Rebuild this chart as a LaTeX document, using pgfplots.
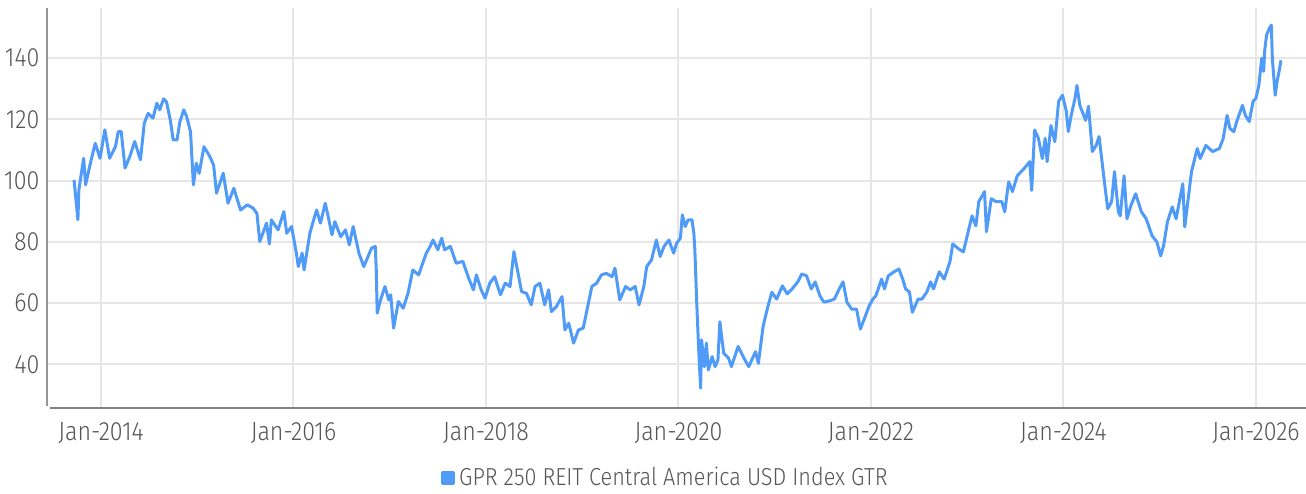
\documentclass[border=0pt]{standalone}
\usepackage{fontspec}
\setmainfont{Fira Sans}[UprightFont={* Light}, FakeStretch=0.88]
\usepackage{pgfplots}
\pgfplotsset{compat=1.18}
\definecolor{serie}{HTML}{4F9BF7}
\definecolor{gridc}{HTML}{E6E6E6}
\definecolor{lab}{HTML}{555555}
\definecolor{yaxc}{HTML}{969696}
\definecolor{xaxc}{HTML}{828282}
\begin{document}
\begin{tikzpicture}
\useasboundingbox (-23.5pt,-42.5pt) rectangle (629.5pt,204pt);
\begin{axis}[
  at={(0pt,0pt)}, anchor=south west,
  scale only axis, width=629.5pt, height=200pt,
  xmin=2013.439, xmax=2026.52, ymin=25.7, ymax=156.4,
  axis line style={draw=none},
  tick style={draw=none},
  clip=false,
  xtick={2014,2016,2018,2020,2022,2024,2026},
  xticklabels={Jan-2014,Jan-2016,Jan-2018,Jan-2020,Jan-2022,Jan-2024,Jan-2026},
  ytick={40,60,80,100,120,140},
  grid=major, major grid style={draw=gridc, line width=1pt},
  /pgf/number format/assume math mode=true,
  tick label style={font=\fontsize{13.2}{15}\selectfont, text=lab},
  yticklabel style={xshift=-0.3pt},
  xticklabel style={yshift=-3.5pt},
  legend style={at={(0.492,-0.174)}, anchor=center, draw=none, fill=none,
    font=\fontsize{12.3}{14}\selectfont, text=lab},
  legend image code/.code={\fill[serie] (0pt,-2.75pt) rectangle (5.5pt,2.75pt);},
]
\draw[draw=yaxc, line width=1pt] (rel axis cs:0,1) -- (rel axis cs:0,0.004);
\draw[draw=xaxc, line width=1.1pt] (rel axis cs:0.0024,0) -- (rel axis cs:1,0);
\addplot[serie, line width=1.5pt, line join=round] coordinates {
(2013.72,100.2)(2013.76,87.2)(2013.77,97.0)(2013.82,107.3)(2013.84,98.6)(2013.89,105.7)
(2013.94,112.2)(2013.99,107.3)(2014.04,116.6)(2014.09,107.3)(2014.15,111.1)(2014.18,116.0)
(2014.21,116.0)(2014.25,104.1)(2014.30,107.9)(2014.35,112.8)(2014.41,106.8)(2014.45,118.8)
(2014.49,122.0)(2014.54,120.4)(2014.58,125.3)(2014.61,123.1)(2014.65,126.7)(2014.68,125.8)
(2014.72,119.8)(2014.75,113.3)(2014.79,113.3)(2014.82,119.3)(2014.86,123.1)(2014.89,120.9)
(2014.93,116.0)(2014.96,98.6)(2014.99,105.7)(2015.02,102.4)(2015.07,111.1)(2015.13,107.9)
(2015.17,105.1)(2015.20,95.9)(2015.27,102.4)(2015.32,92.6)(2015.38,97.5)(2015.45,90.4)
(2015.52,92.1)(2015.58,91.0)(2015.62,89.3)(2015.65,80.1)(2015.72,86.1)(2015.75,79.3)
(2015.77,87.2)(2015.84,83.9)(2015.90,89.9)(2015.93,82.8)(2015.98,85.0)(2016.03,76.3)
(2016.05,71.9)(2016.09,76.3)(2016.11,70.8)(2016.17,82.8)(2016.21,87.2)(2016.24,90.4)
(2016.28,86.1)(2016.33,92.6)(2016.36,88.3)(2016.40,82.3)(2016.43,86.6)(2016.49,81.7)
(2016.54,83.9)(2016.58,79.0)(2016.62,85.0)(2016.68,76.3)(2016.73,71.9)(2016.76,74.1)
(2016.81,77.9)(2016.85,78.5)(2016.86,70.8)(2016.87,56.7)(2016.90,60.5)(2016.95,65.4)
(2016.99,61.0)(2017.01,62.7)(2017.04,51.8)(2017.09,60.5)(2017.14,58.3)(2017.19,63.2)
(2017.24,70.8)(2017.30,69.2)(2017.33,71.9)(2017.38,76.3)(2017.42,78.5)(2017.45,80.6)
(2017.50,77.4)(2017.54,81.2)(2017.57,77.4)(2017.63,78.5)(2017.69,73.0)(2017.76,73.6)
(2017.82,68.1)(2017.87,64.3)(2017.90,69.2)(2017.95,64.3)(2017.99,61.6)(2018.04,66.5)
(2018.09,68.6)(2018.15,62.7)(2018.20,66.5)(2018.25,65.4)(2018.29,76.8)(2018.32,71.9)
(2018.37,63.7)(2018.42,63.2)(2018.47,59.4)(2018.51,65.4)(2018.56,66.5)(2018.61,59.4)
(2018.65,64.3)(2018.68,57.2)(2018.73,58.8)(2018.79,62.1)(2018.82,51.2)(2018.86,53.4)
(2018.91,46.9)(2018.96,51.2)(2019.01,51.8)(2019.05,57.8)(2019.10,65.4)(2019.15,66.5)
(2019.20,69.2)(2019.25,69.7)(2019.31,68.6)(2019.34,71.4)(2019.39,61.0)(2019.45,65.4)
(2019.50,64.3)(2019.55,65.4)(2019.59,59.4)(2019.64,65.4)(2019.67,71.9)(2019.72,74.1)
(2019.77,80.6)(2019.81,75.2)(2019.85,78.5)(2019.90,80.6)(2019.95,76.3)(2019.98,79.5)
(2020.02,81.2)(2020.04,88.8)(2020.07,85.0)(2020.10,87.2)(2020.14,87.2)(2020.16,82.8)
(2020.17,77.4)(2020.19,59.9)(2020.21,44.7)(2020.23,32.2)(2020.24,48.0)(2020.27,39.2)
(2020.29,46.9)(2020.31,38.1)(2020.35,42.5)(2020.38,39.2)(2020.41,41.4)(2020.43,53.9)
(2020.47,43.6)(2020.52,42.0)(2020.55,39.2)(2020.62,45.8)(2020.68,42.0)(2020.73,39.2)
(2020.80,44.1)(2020.83,40.3)(2020.88,52.5)(2020.93,59.0)(2020.97,63.5)(2021.02,61.3)
(2021.08,65.6)(2021.13,63.0)(2021.18,64.6)(2021.24,66.9)(2021.28,69.5)(2021.33,68.9)
(2021.38,64.6)(2021.42,66.9)(2021.47,62.3)(2021.51,60.3)(2021.57,60.7)(2021.62,61.3)
(2021.67,64.6)(2021.71,66.9)(2021.75,60.3)(2021.80,58.0)(2021.85,58.0)(2021.89,51.5)
(2021.93,54.8)(2021.98,59.0)(2022.02,61.3)(2022.05,62.3)(2022.11,67.8)(2022.14,64.6)
(2022.18,68.9)(2022.24,70.2)(2022.29,71.1)(2022.33,67.8)(2022.36,64.6)(2022.40,63.6)
(2022.43,57.0)(2022.49,61.3)(2022.53,61.3)(2022.58,63.6)(2022.62,66.9)(2022.65,64.6)
(2022.71,70.2)(2022.76,67.8)(2022.82,73.4)(2022.85,79.3)(2022.91,77.7)(2022.96,76.7)
(2023.01,83.3)(2023.05,88.5)(2023.09,85.2)(2023.12,93.1)(2023.18,96.4)(2023.20,83.3)
(2023.25,94.1)(2023.30,93.1)(2023.36,93.1)(2023.39,89.8)(2023.43,99.6)(2023.47,96.4)
(2023.52,101.6)(2023.59,103.9)(2023.65,106.2)(2023.67,96.8)(2023.70,116.5)(2023.74,113.8)
(2023.78,107.2)(2023.81,113.8)(2023.83,106.2)(2023.87,118.0)(2023.91,112.7)(2023.95,125.9)
(2023.99,127.9)(2024.03,122.6)(2024.05,116.0)(2024.08,121.3)(2024.12,126.9)(2024.14,131.1)
(2024.17,124.6)(2024.23,119.7)(2024.26,124.3)(2024.30,109.5)(2024.34,111.5)(2024.37,114.4)
(2024.43,98.4)(2024.46,90.8)(2024.50,93.1)(2024.53,102.9)(2024.57,89.8)(2024.59,88.5)
(2024.63,101.6)(2024.66,87.5)(2024.70,91.8)(2024.75,95.7)(2024.81,89.8)(2024.86,87.5)
(2024.92,82.0)(2024.97,80.0)(2025.01,75.4)(2025.04,78.7)(2025.08,86.5)(2025.13,91.4)
(2025.17,87.5)(2025.21,94.1)(2025.24,99.0)(2025.26,84.9)(2025.30,95.1)(2025.33,102.9)
(2025.39,110.5)(2025.42,107.2)(2025.48,111.5)(2025.55,109.5)(2025.62,110.5)(2025.66,113.8)
(2025.70,121.3)(2025.73,117.0)(2025.77,116.0)(2025.80,119.3)(2025.86,124.6)(2025.89,121.3)
(2025.93,119.3)(2025.97,125.9)(2026.00,126.9)(2026.03,131.1)(2026.06,140.0)(2026.08,135.7)
(2026.09,142.3)(2026.11,147.5)(2026.14,149.8)(2026.16,150.8)(2026.17,140.0)(2026.20,127.9)
(2026.22,132.5)(2026.24,135.7)(2026.26,139.3)
};
\addlegendentry{GPR 250 REIT Central America USD Index GTR}
\end{axis}
\end{tikzpicture}
\end{document}
